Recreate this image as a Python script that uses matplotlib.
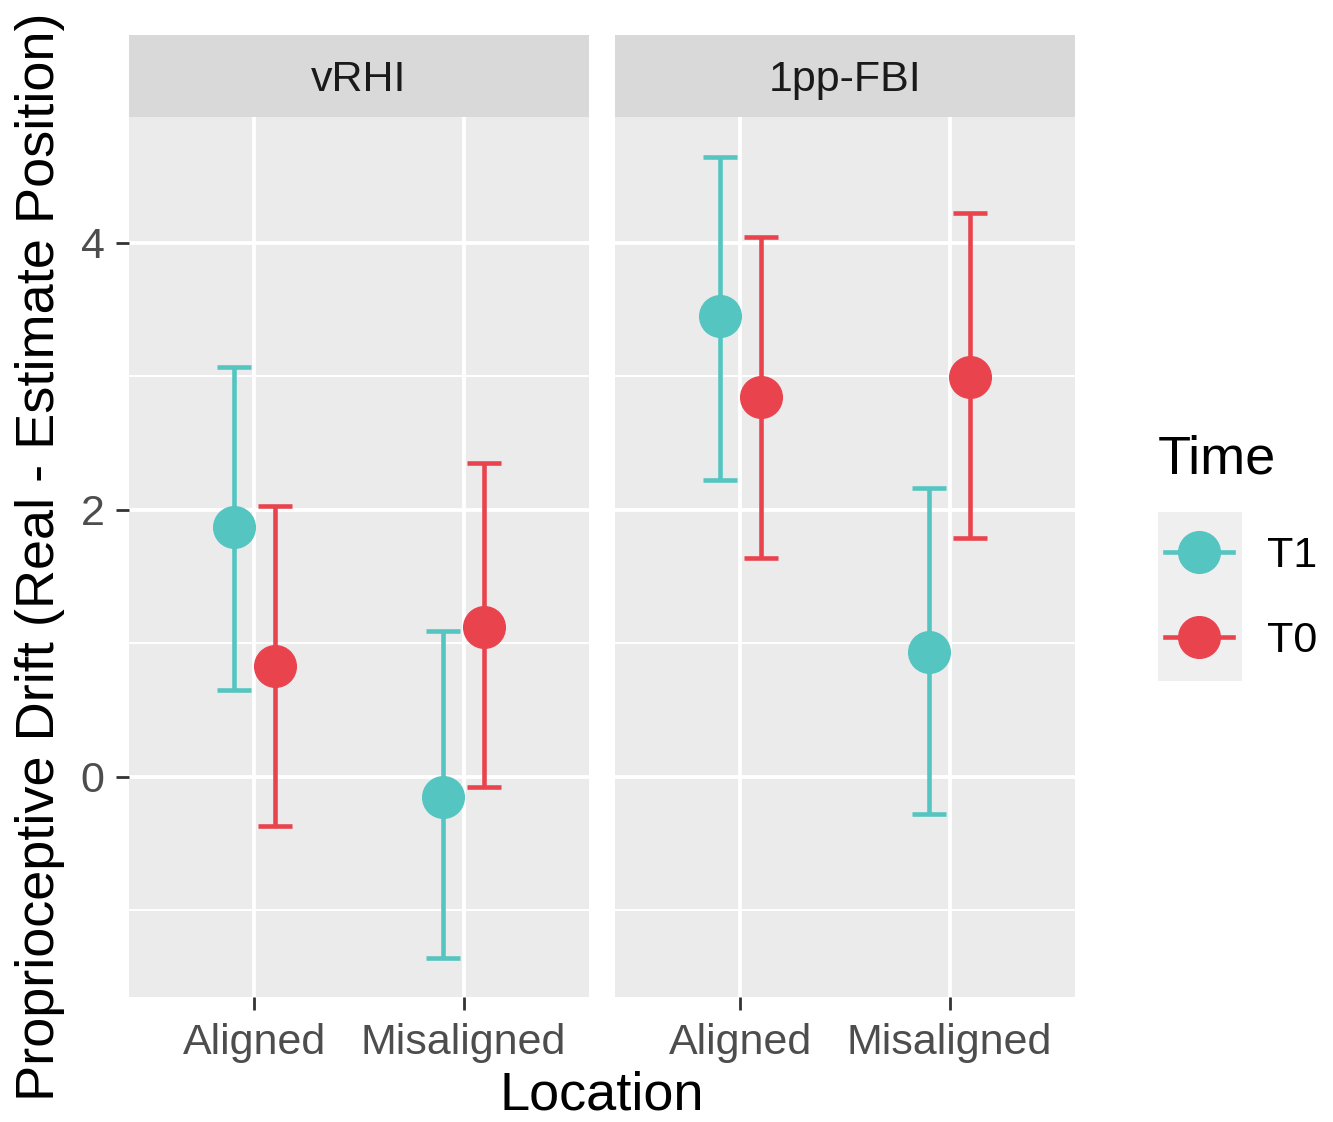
import numpy as np
import matplotlib
matplotlib.use('Agg')
import matplotlib.pyplot as plt
from matplotlib.lines import Line2D
from matplotlib.patches import Rectangle

plt.rcParams['font.family'] = ['Liberation Sans', 'DejaVu Sans']

paineis = ['vRHI', '1pp-FBI']
locais = ['Aligned', 'Misaligned']
tempos = ['T1', 'T0']
cores = {'T1': '#54C5C0', 'T0': '#E9444E'}

# media, limite inferior, limite superior  [painel][local]
media_t1 = [[1.87, -0.15], [3.45, 0.93]]
inf_t1 = [[0.65, -1.36], [2.22, -0.28]]
sup_t1 = [[3.07, 1.09], [4.64, 2.16]]

media_t0 = [[0.83, 1.12], [2.84, 2.99]]
inf_t0 = [[-0.37, -0.08], [1.64, 1.79]]
sup_t0 = [[2.03, 2.35], [4.04, 4.22]]

dados = {'T1': (media_t1, inf_t1, sup_t1), 'T0': (media_t0, inf_t0, sup_t0)}
desloc = {'T1': -0.1, 'T0': 0.1}

W, H = 1333, 1122
fig = plt.figure(figsize=(W / 100, H / 100), dpi=100)

esquerdas = [129, 615]
largura = 460
topo, base = 117, 997

for i, nome in enumerate(paineis):
    ax = fig.add_axes([esquerdas[i] / W, 1 - base / H, largura / W, (base - topo) / H])
    ax.set_facecolor('#EBEBEB')
    for s in ax.spines.values():
        s.set_visible(False)
    ax.set_xlim(0.4, 2.6)
    ax.set_ylim(-1.65, 4.94)
    x = np.arange(1, len(locais) + 1)

    for yv in [-1, 1, 3]:
        ax.axhline(yv, color='white', lw=1.4, zorder=0)
    for yv in [0, 2, 4]:
        ax.axhline(yv, color='white', lw=2.8, zorder=0)
    for xv in x:
        ax.axvline(xv, color='white', lw=2.8, zorder=0)

    for t in tempos:
        med, lo, hi = dados[t]
        m = np.array(med[i])
        yerr = [m - np.array(lo[i]), np.array(hi[i]) - m]
        ax.errorbar(x + desloc[t], m, yerr=yerr, fmt='none', ecolor=cores[t],
                    elinewidth=3.3, capsize=12, capthick=3.3, zorder=2)
        ax.plot(x + desloc[t], m, 'o', color=cores[t], markersize=30, zorder=3)

    ax.set_xticks(x)
    ax.set_xticklabels(locais, fontsize=31, color='#4D4D4D')
    ax.set_yticks([0, 2, 4])
    if i == 0:
        ax.set_yticklabels(['0', '2', '4'], fontsize=31, color='#4D4D4D')
        ax.tick_params(axis='y', length=9.5, width=2, color='#333333', pad=8)
    else:
        ax.tick_params(axis='y', left=False, labelleft=False)
    ax.tick_params(axis='x', length=9.5, width=2, color='#333333', pad=9)

    faixa = fig.add_axes([esquerdas[i] / W, 1 - topo / H, largura / W, 82 / H])
    faixa.set_facecolor('#D9D9D9')
    faixa.set_xticks([])
    faixa.set_yticks([])
    for s in faixa.spines.values():
        s.set_visible(False)
    faixa.text(0.5, 0.45, nome, ha='center', va='center', fontsize=31, color='#1A1A1A',
               transform=faixa.transAxes)

fig.text(602 / W, 1 - 1096 / H, 'Location', ha='center', va='center', fontsize=39)
fig.text(40 / W, 1 - 557 / H, 'Proprioceptive Drift (Real - Estimate Position)',
         ha='center', va='center', rotation=90, fontsize=39)

# legenda
fig.text(1158 / W, 1 - 460 / H, 'Time', ha='left', va='center', fontsize=39)
fig.patches.append(Rectangle((1158 / W, 1 - 681 / H), 84 / W, 169 / H,
                             transform=fig.transFigure, facecolor='#EFEFEF',
                             edgecolor='none', zorder=0))
alcas = [Line2D([], [], color=cores[t], lw=3.3, marker='o', markersize=30) for t in tempos]
leg = fig.legend(alcas, tempos, loc='upper left',
                 bbox_to_anchor=(1165 / W, 1 - 536 / H), frameon=False,
                 borderaxespad=0, borderpad=0,
                 fontsize=31, handlelength=1.58,
                 labelspacing=1.05, handletextpad=0.8)

fig.savefig('out.png', dpi=100)
